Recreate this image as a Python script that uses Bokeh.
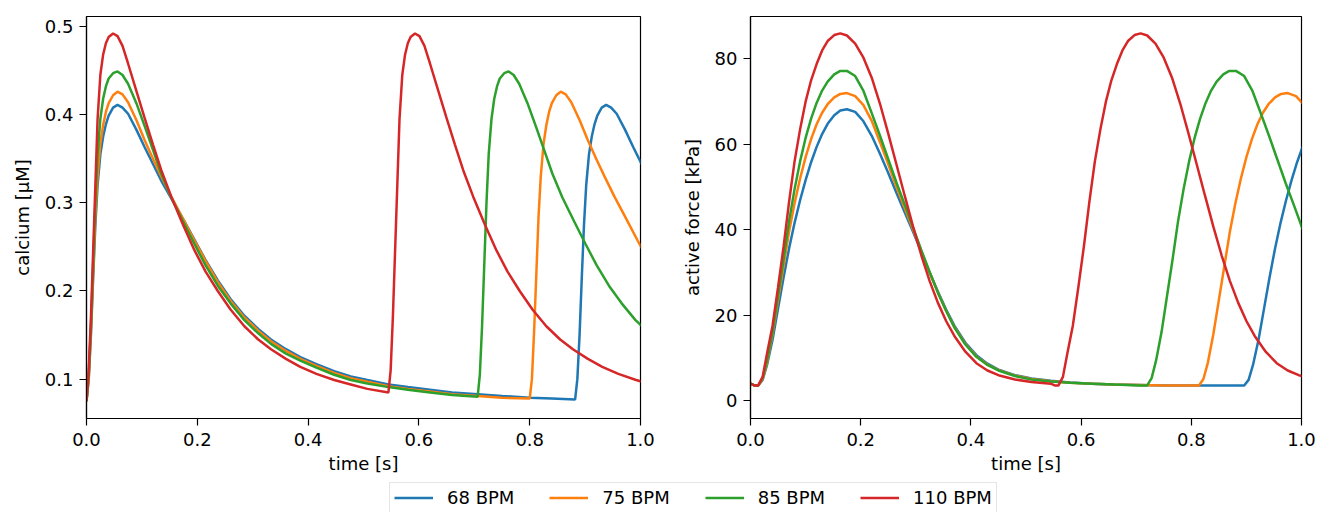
from bokeh.plotting import figure
from bokeh.layouts import column, row
from bokeh.models import FixedTicker, PrintfTickFormatter, Legend, LegendItem
from bokeh.embed import file_html
from bokeh.resources import INLINE

# ---------------- data ----------------
labels = ["68 BPM", "75 BPM", "85 BPM", "110 BPM"]
colors = ["#1f77b4", "#ff7f0e", "#2ca02c", "#d62728"]
periods = [0.882, 0.800, 0.706, 0.545]          # beat length [s]

# calcium: time within one beat [s]
t_ca = [0, 0.004, 0.008, 0.012, 0.016, 0.02, 0.025, 0.03, 0.035, 0.04, 0.048,
        0.056, 0.065, 0.075, 0.09, 0.105, 0.12, 0.135, 0.153, 0.175, 0.195,
        0.215, 0.237, 0.26, 0.285, 0.31, 0.333, 0.36, 0.386, 0.415, 0.447,
        0.477, 0.507, 0.545, 0.58, 0.62, 0.66, 0.706, 0.75, 0.8, 0.84, 0.882]

ca_68 = [0.075, 0.10, 0.15, 0.215, 0.275, 0.32, 0.355, 0.375, 0.389, 0.399, 0.408,
         0.411, 0.408, 0.401, 0.383, 0.363, 0.344, 0.325, 0.305, 0.281, 0.258,
         0.235, 0.212, 0.191, 0.172, 0.157, 0.145, 0.134, 0.125, 0.117, 0.109,
         0.103, 0.099, 0.094, 0.091, 0.088, 0.085, 0.083, 0.081, 0.079, 0.078, 0.077]
ca_75 = [0.075, 0.10, 0.155, 0.22, 0.285, 0.33, 0.367, 0.388, 0.403, 0.413, 0.422,
         0.426, 0.423, 0.414, 0.394, 0.371, 0.350, 0.330, 0.307, 0.281, 0.257,
         0.234, 0.210, 0.189, 0.170, 0.155, 0.143, 0.132, 0.123, 0.115, 0.107,
         0.101, 0.097, 0.092, 0.089, 0.086, 0.083, 0.081, 0.079, 0.078]
ca_85 = [0.075, 0.105, 0.16, 0.23, 0.30, 0.355, 0.395, 0.418, 0.432, 0.441, 0.447,
         0.449, 0.445, 0.435, 0.413, 0.387, 0.360, 0.333, 0.306, 0.278, 0.253,
         0.229, 0.206, 0.186, 0.167, 0.152, 0.140, 0.129, 0.121, 0.113, 0.105,
         0.099, 0.095, 0.091, 0.088, 0.085, 0.082, 0.080]
ca_110 = [0.075, 0.11, 0.17, 0.245, 0.32, 0.395, 0.445, 0.468, 0.481, 0.488, 0.492,
          0.489, 0.478, 0.458, 0.427, 0.396, 0.366, 0.337, 0.307, 0.274, 0.246,
          0.222, 0.200, 0.179, 0.160, 0.145, 0.134, 0.123, 0.114, 0.106, 0.099,
          0.094, 0.089, 0.085]

# active force: time within one beat [s]
t_f = [0, 0.007, 0.014, 0.022, 0.03, 0.04, 0.05, 0.06, 0.07, 0.08, 0.09, 0.10,
       0.11, 0.12, 0.13, 0.14, 0.152, 0.163, 0.175, 0.19, 0.205, 0.22, 0.235,
       0.25, 0.265, 0.28, 0.295, 0.31, 0.325, 0.34, 0.355, 0.37, 0.39, 0.41,
       0.43, 0.45, 0.48, 0.51, 0.545, 0.58, 0.62, 0.66, 0.706, 0.75, 0.8, 0.84, 0.882]

f_68 = [3.9, 3.5, 3.5, 4.8, 8.3, 14.2, 21.5, 28.8, 35.6, 41.6, 46.9, 51.6, 55.8,
        59.4, 62.4, 64.8, 66.8, 67.9, 68.2, 67.6, 65.4, 62, 57.8, 53.3, 48.6,
        44, 39.5, 34.8, 30, 25.5, 21.3, 17.5, 13.5, 10.6, 8.6, 7.2, 5.9, 5.1,
        4.6, 4.2, 3.9, 3.7, 3.6, 3.5, 3.5, 3.5, 3.5]
f_75 = [3.9, 3.5, 3.5, 5.0, 8.8, 15.5, 23.5, 31.5, 39.5, 46.2, 52.0, 57.0, 61.2,
        64.7, 67.4, 69.4, 71.0, 71.8, 72.0, 71.3, 69.2, 65.5, 60.5, 55.3, 50,
        45, 40, 35, 30, 25.3, 21, 17.2, 13.2, 10.3, 8.4, 7.1, 5.8, 5.0, 4.5,
        4.1, 3.9, 3.7, 3.6, 3.5, 3.5]
f_85 = [3.9, 3.5, 3.5, 5.2, 9.3, 16, 24.5, 33, 42, 49.5, 56, 61.5, 66, 69.7,
        72.6, 74.7, 76.4, 77.2, 77.2, 76, 72.5, 67.3, 62, 56.5, 51, 45.8, 40.5,
        35.2, 30.1, 25.3, 21, 17.1, 13.1, 10.2, 8.3, 7.0, 5.7, 4.9, 4.4, 4.1,
        3.9, 3.7, 3.5]
f_110 = [3.9, 3.5, 3.5, 5.5, 11, 17.5, 26.5, 36, 46.5, 56, 63.5, 70, 75, 78.8,
         82, 84.2, 85.6, 86.0, 85.5, 83.6, 80.3, 75.6, 69.5, 62.5, 55.2, 47.9,
         40.7, 34.0, 28.0, 22.9, 18.6, 15.1, 11.4, 8.7, 7.0, 5.9, 4.9, 4.3, 3.9]

ca_series = [ca_68, ca_75, ca_85, ca_110]
f_series = [f_68, f_75, f_85, f_110]

x_ticks = [0.0, 0.2, 0.4, 0.6, 0.8, 1.0]
ca_ticks = [0.1, 0.2, 0.3, 0.4, 0.5]
f_ticks = [0, 20, 40, 60, 80]


def two_beats(tb, vals, period):
    """first beat followed by the same beat repeated one period later"""
    n = len(vals)
    xs = list(tb[:n]) + [period + t for t in tb[1:n]]
    ys = list(vals) + list(vals[1:])
    return xs, ys


FONT = "DejaVu Sans"
FS = "18px"


def style(p, ylabel, yfmt, yticks):
    p.xgrid.visible = False
    p.ygrid.visible = False
    p.outline_line_color = "black"
    p.outline_line_width = 1.2
    p.background_fill_color = "white"
    p.border_fill_color = "white"
    p.xaxis.ticker = FixedTicker(ticks=x_ticks)
    p.xaxis.formatter = PrintfTickFormatter(format="%.1f")
    p.yaxis.ticker = FixedTicker(ticks=yticks)
    p.yaxis.formatter = PrintfTickFormatter(format=yfmt)
    p.xaxis.axis_label = "time [s]"
    p.yaxis.axis_label = ylabel
    for ax in (p.xaxis[0], p.yaxis[0]):
        ax.axis_line_color = "black"
        ax.axis_line_width = 1.2
        ax.major_tick_line_color = "black"
        ax.major_tick_line_width = 1.2
        ax.major_tick_out = 7
        ax.major_tick_in = 0
        ax.minor_tick_out = 0
        ax.minor_tick_in = 0
        ax.major_label_text_font = FONT
        ax.major_label_text_font_size = FS
        ax.major_label_text_color = "black"
        ax.axis_label_text_font = FONT
        ax.axis_label_text_font_size = FS
        ax.axis_label_text_font_style = "normal"
        ax.axis_label_text_color = "black"
    p.xaxis.major_label_standoff = 7
    p.xaxis.axis_label_standoff = 4
    p.yaxis.major_label_standoff = 6
    p.yaxis.axis_label_standoff = 9


p1 = figure(width=668, height=480, x_range=(0, 1), y_range=(0.0554, 0.5113),
            toolbar_location=None, output_backend="svg",
            min_border_left=86, min_border_right=28, min_border_top=16,
            min_border_bottom=62)
style(p1, "calcium [μM]", "%.1f", ca_ticks)

p2 = figure(width=649, height=480, x_range=(0, 1), y_range=(-4.25, 89.95),
            toolbar_location=None, output_backend="svg",
            min_border_left=82, min_border_right=16, min_border_top=16,
            min_border_bottom=62)
style(p2, "active force [kPa]", "%d", f_ticks)

for vals, per, c in zip(ca_series, periods, colors):
    xs, ys = two_beats(t_ca, vals, per)
    p1.line(xs, ys, line_color=c, line_width=2.5)

for vals, per, c in zip(f_series, periods, colors):
    xs, ys = two_beats(t_f, vals, per)
    p2.line(xs, ys, line_color=c, line_width=2.5)

# ---------------- legend strip ----------------
pl = figure(width=1317, height=32, x_range=(0, 1), y_range=(0, 1),
            toolbar_location=None, output_backend="svg",
            x_axis_type=None, y_axis_type=None, min_border=0)
pl.outline_line_color = None
pl.background_fill_color = "white"
pl.border_fill_color = "white"
# legend handles only (kept outside the visible range of this strip)
handles = [pl.line(x=[-2, -1], y=[-2, -1], line_color=c, line_width=2.5) for c in colors]
leg = Legend(items=[LegendItem(label=l, renderers=[r]) for l, r in zip(labels, handles)],
             orientation="horizontal", location=(389, -1),
             glyph_width=39, glyph_height=19, label_standoff=14, spacing=35,
             padding=4, label_height=19,
             label_text_font=FONT, label_text_font_size=FS,
             label_text_color="black",
             border_line_color="#cccccc", border_line_width=1,
             background_fill_color="white", background_fill_alpha=1.0)
pl.add_layout(leg)

layout = column(row(p1, p2), pl)
open("out.html", "w").write(file_html(layout, INLINE))
